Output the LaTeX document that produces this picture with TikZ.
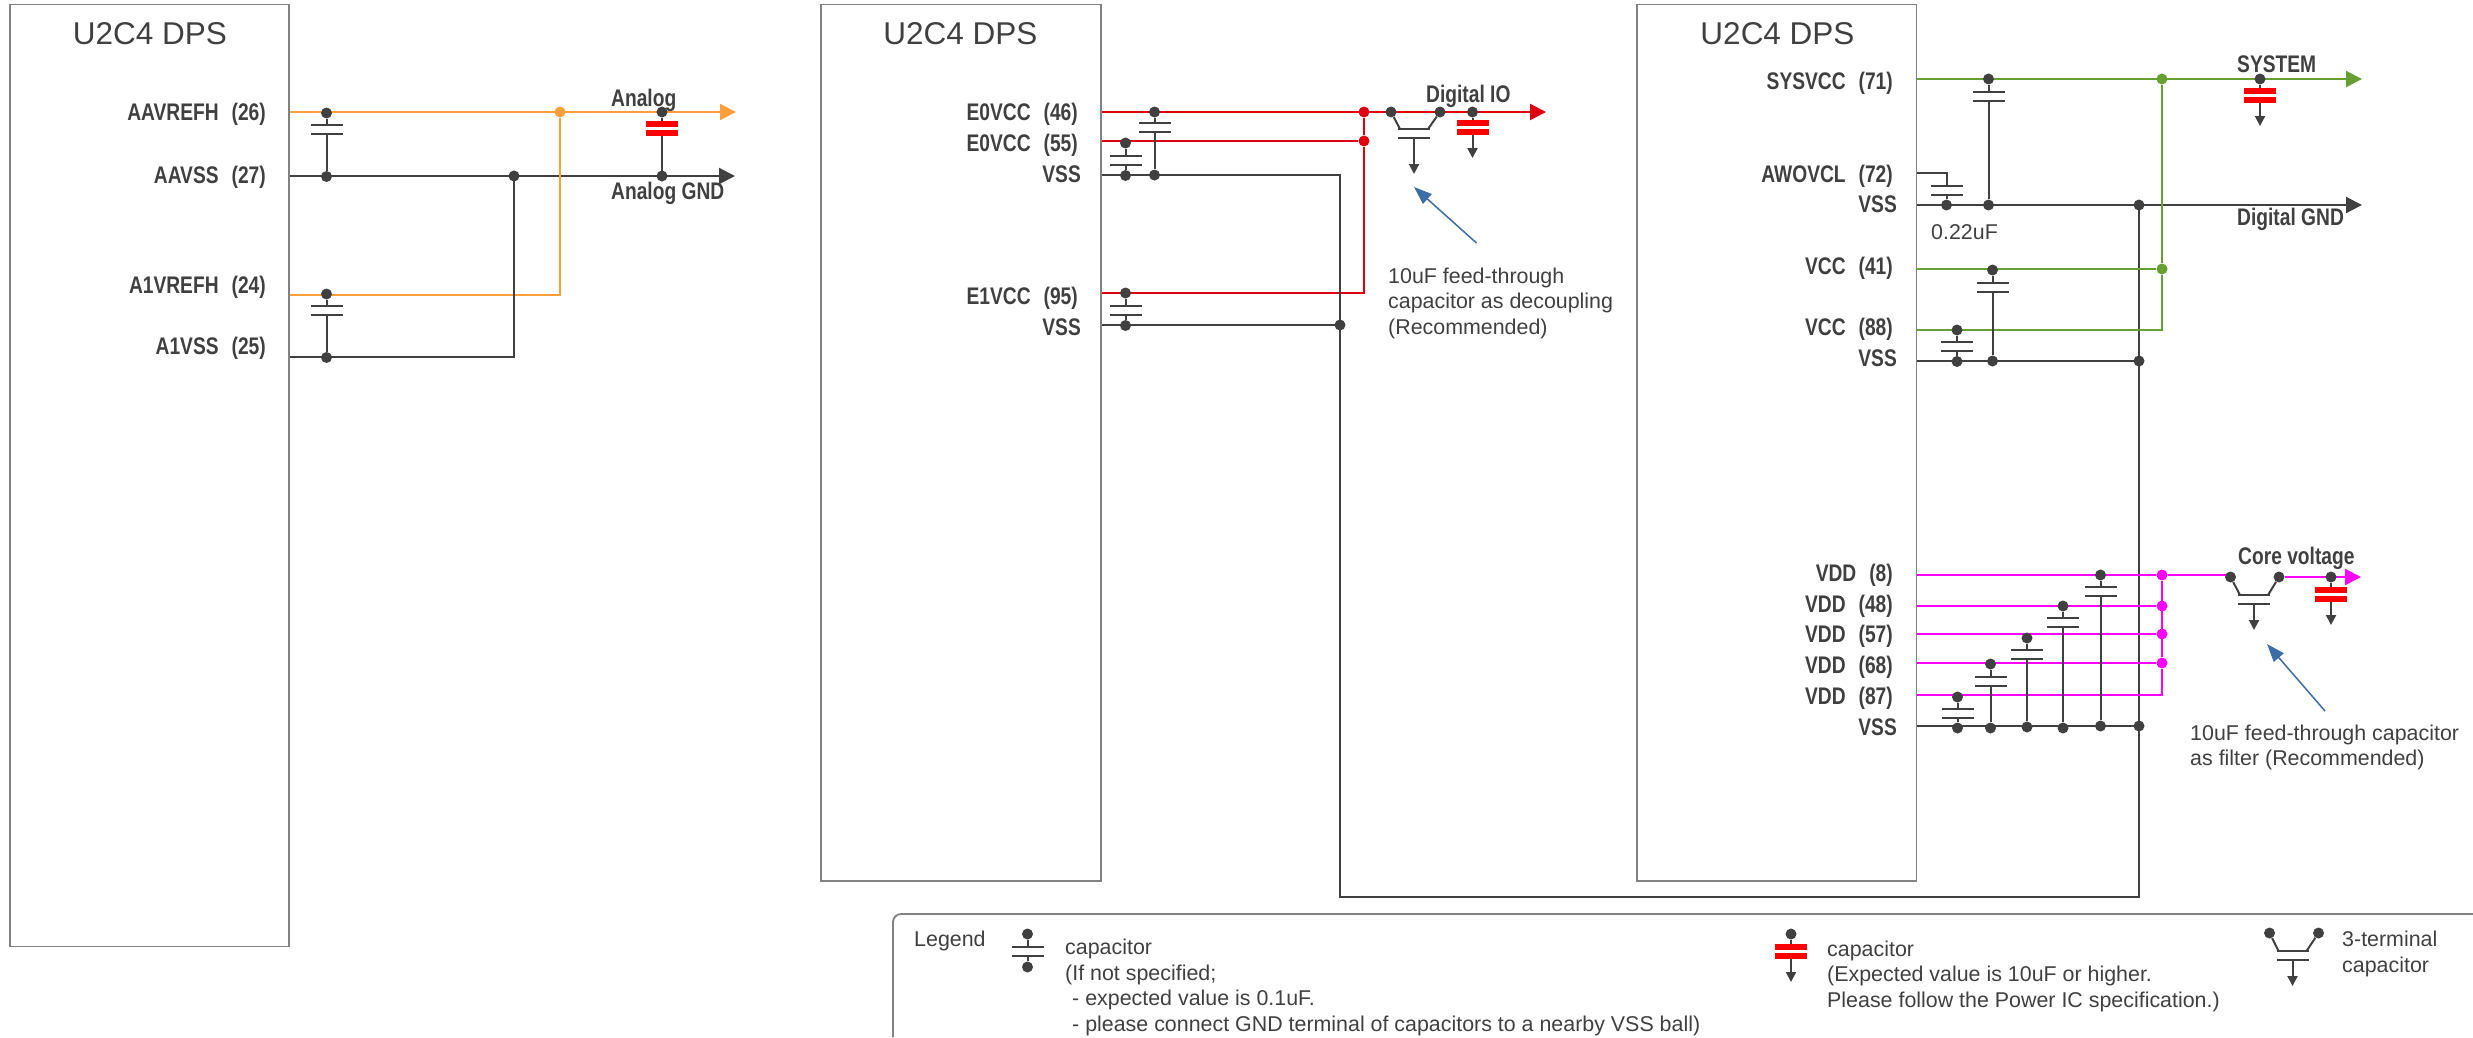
\documentclass[tikz,border=0pt]{standalone}
\usepackage{fontspec}
\setmainfont{Liberation Sans}
\newfontfamily\pinfont[FakeStretch=0.8]{Liberation Sans Bold}
\usetikzlibrary{arrows.meta}
\definecolor{ink}{RGB}{64,64,64}
\definecolor{frame}{RGB}{130,130,130}
\definecolor{analogline}{RGB}{255,159,60}
\definecolor{ioline}{RGB}{222,0,16}
\definecolor{sysline}{RGB}{102,160,50}
\definecolor{coreline}{RGB}{255,0,255}
\definecolor{callout}{RGB}{59,110,168}
\tikzset{%
  chip/.style={draw=frame, line width=1.8, anchor=north west, inner sep=0, outer sep=0},% device outline
  title/.style={text=ink, font=\fontsize{31.5}{37}\selectfont, inner sep=0},% device name
  pin/.style={text=ink, anchor=east, inner sep=0, text height=17, text depth=0, font=\pinfont\fontsize{24}{28}\selectfont},% ball name
  net/.style={text=ink, anchor=west, inner sep=0, text height=17, text depth=0, font=\pinfont\fontsize{24}{28}\selectfont},% net name
  note/.style={text=ink, anchor=west, inner sep=0, align=left, font=\fontsize{21.4}{25.5}\selectfont},% free text
  pad/.style={circle, fill=ink, inner sep=0, minimum size=11},% solder point
  lead/.style={draw=ink, line width=2},% capacitor wire
  plate/.style={draw=ink, line width=2},% capacitor plate
  gnd/.style={draw=ink, line width=2.2},% ground rail
  tipbig/.style={-{Triangle[length=16,width=16]}},% rail end
  tipsmall/.style={-{Triangle[length=10,width=10]}}% ground end
}
\newcommand*{\ballgap}{\hspace{13pt}}
% name, x, y top dot, y first plate, y bottom dot
\newcommand*{\decap}[5]{
  \node[pad] (#1t) at (#2,#3) {};
  \node[pad] (#1b) at (#2,#5) {};
  \coordinate (#1u) at (#2,#4);
  \coordinate (#1l) at (#2,#4+9);
  \draw[plate] (#2-16,#4) -- (#2+16,#4);
  \draw[plate] (#2-16,#4+9) -- (#2+16,#4+9);
  \draw[lead] (#1t) -- (#1u);
  \draw[lead] (#1l) -- (#1b);
}
% [tip], name, x, y dot, y first plate, y end
\newcommand*{\redcap}[6][]{
  \node[pad] (#2t) at (#3,#4) {};
  \coordinate (#2u) at (#3,#5);
  \coordinate (#2l) at (#3,#5+15);
  \coordinate (#2e) at (#3,#6);
  \draw[lead] (#2t) -- (#2u);
  \draw[lead, #1] (#2l) -- (#2e);
  \fill[red] (#3-16,#5) rectangle (#3+16,#5+6);
  \fill[red] (#3-16,#5+9) rectangle (#3+16,#5+15);
}
% name, x left dot, x middle, x right dot, y dots, y first plate, y end
\newcommand*{\feedcap}[7]{
  \node[pad] (#1a) at (#2,#5) {};
  \node[pad] (#1c) at (#4,#5) {};
  \coordinate (#1u) at (#3,#6);
  \coordinate (#1l) at (#3,#6+9);
  \coordinate (#1e) at (#3,#7);
  \draw[plate] (#3-16,#6) -- (#3+16,#6);
  \draw[plate] (#3-16,#6+9) -- (#3+16,#6+9);
  \draw[lead] (#1a) -- (#3-14,#6);
  \draw[lead] (#1c) -- (#3+14,#6);
  \draw[lead, tipsmall] (#1l) -- (#1e);
}
\begin{document}
\begin{tikzpicture}[x=1pt,y=-1pt,line cap=butt]
\useasboundingbox (0,0) rectangle (2473,1037);

% device outlines
\node[chip, minimum width=279, minimum height=942] (chipa) at (10,4.5) {};
\node[chip, minimum width=279.5, minimum height=876.5] (chipb) at (821.2,4.5) {};
\node[chip, minimum width=279.5, minimum height=876.5] (chipc) at (1637,4.5) {};
\node[title] (titlea) at (150,33.5) {U2C4 DPS};
\node[title] (titleb) at (960.5,34) {U2C4 DPS};
\node[title] (titlec) at (1777.5,33.5) {U2C4 DPS};

% ball names
\node[pin] (aavrefh) at (266,112) {AAVREFH\ballgap(26)};
\node[pin] (aavss) at (266,175) {AAVSS\ballgap(27)};
\node[pin] (avrefh) at (266,285) {A1VREFH\ballgap(24)};
\node[pin] (avss) at (266,346) {A1VSS\ballgap(25)};
\node[pin] (eovcca) at (1078,112) {E0VCC\ballgap(46)};
\node[pin] (eovccb) at (1078,143) {E0VCC\ballgap(55)};
\node[pin] (vssa) at (1081,174) {VSS};
\node[pin] (evcc) at (1078,296) {E1VCC\ballgap(95)};
\node[pin] (vssb) at (1081,327) {VSS};
\node[pin] (sysvcc) at (1893,81) {SYSVCC\ballgap(71)};
\node[pin] (awovcl) at (1893,174) {AWOVCL\ballgap(72)};
\node[pin] (vssc) at (1897,204) {VSS};
\node[pin] (vcca) at (1893,266) {VCC\ballgap(41)};
\node[pin] (vccb) at (1893,327) {VCC\ballgap(88)};
\node[pin] (vssd) at (1897,358) {VSS};
\node[pin] (vdda) at (1893,573) {VDD\ballgap(8)};
\node[pin] (vddb) at (1893,604) {VDD\ballgap(48)};
\node[pin] (vddc) at (1893,634) {VDD\ballgap(57)};
\node[pin] (vddd) at (1893,665) {VDD\ballgap(68)};
\node[pin] (vdde) at (1893,696) {VDD\ballgap(87)};
\node[pin] (vsse) at (1897,727) {VSS};

% net names
\node[net] (analog) at (611,98) {Analog};
\node[net] (analoggnd) at (611,191) {Analog GND};
\node[net] (digio) at (1426,94) {Digital IO};
\node[net] (system) at (2237,64) {SYSTEM};
\node[net] (digitalgnd) at (2237,217) {Digital GND};
\node[net] (corev) at (2238,556) {Core voltage};

% rail ends
\coordinate (a1) at (290,112);
\coordinate (a2) at (290,176);
\coordinate (a3) at (290,295);
\coordinate (a4) at (290,357);
\coordinate (a1e) at (736,112);
\coordinate (a2e) at (735,176);
\coordinate (e1) at (1102,112);
\coordinate (e2) at (1102,141);
\coordinate (e3) at (1102,175);
\coordinate (e4) at (1102,293);
\coordinate (e5) at (1102,325);
\coordinate (e1e) at (1546,112);
\coordinate (s1) at (1917,79);
\coordinate (s2) at (1917,173);
\coordinate (s3) at (1917,205);
\coordinate (s4) at (1917,269);
\coordinate (s5) at (1917,330);
\coordinate (s6) at (1917,361);
\coordinate (s1e) at (2362,79);
\coordinate (s3e) at (2362,205);
\coordinate (v1) at (1917,575);
\coordinate (v2) at (1917,606);
\coordinate (v3) at (1917,634);
\coordinate (v4) at (1917,663);
\coordinate (v5) at (1917,695);
\coordinate (v6) at (1917,726);
\coordinate (v1e) at (2361,577);
\coordinate (loopl) at (1340,897);
\coordinate (loopr) at (2139,897);

% junctions
\node[pad, fill=analogline] (ja) at (560,112) {};
\node[pad, fill=ioline] (jea) at (1364,112) {};
\node[pad, fill=ioline] (jeb) at (1364,141) {};
\node[pad, fill=sysline] (jsa) at (2162,79) {};
\node[pad, fill=sysline] (jsb) at (2162,269) {};
\node[pad, fill=coreline] (jva) at (2162,575) {};
\node[pad, fill=coreline] (jvb) at (2162,606) {};
\node[pad, fill=coreline] (jvc) at (2162,634) {};
\node[pad, fill=coreline] (jvd) at (2162,663) {};

% rails
\draw[gnd, tipbig] (a2) -- (a2e);
\draw[analogline, line width=2.2, tipbig] (a1) -- (a1e);
\draw[analogline, line width=2.2] (a3) -| (ja);
\draw[gnd] (a4) -| (514,176);
\draw[ioline, line width=2.2] (e2) -- (jeb);
\draw[ioline, line width=2.2] (e4) -| (jeb);
\draw[ioline, line width=2] (jeb) -- (jea);
\draw[gnd] (e5) -- (1340,325);
\draw[gnd] (e3) -| (loopl) -- (loopr) -- (2139,205);
\draw[ioline, line width=2.2, tipbig] (e1) -- (e1e);
\draw[gnd, tipbig] (s3) -- (s3e);
\draw[sysline, line width=2.2, tipbig] (s1) -- (s1e);
\draw[sysline, line width=2.2] (s4) -- (jsb);
\draw[sysline, line width=2.2] (s5) -| (jsb);
\draw[sysline, line width=2] (jsb) -- (jsa);
\draw[gnd] (s6) -- (2139,361);
\draw[gnd] (v6) -- (2139,726);
\draw[lead] (s2) -| (1946.5,186);
\draw[coreline, line width=2.2] (v1) -- (jva);
\draw[coreline, line width=2.2] (v2) -- (jvb);
\draw[coreline, line width=2.2] (v3) -- (jvc);
\draw[coreline, line width=2.2] (v4) -- (jvd);
\draw[coreline, line width=2.2] (v5) -| (jvd);
\draw[coreline, line width=2] (jvd) -- (jva);

% feed-through capacitors
\feedcap{fe}{1391}{1414}{1440}{112}{129}{174}
\feedcap{fv}{2230.5}{2254}{2279}{577}{595}{630}
\draw[coreline, line width=2.2] (jva) -- (fva.north west |- jva);
\draw[coreline, line width=2.2, tipbig] (fvc) -- (v1e);

% capacitors, left device
\decap{ca}{326.5}{113}{125}{176.5}
\decap{cb}{326.5}{294}{306}{357.5}
\node[pad] (cg) at (514,176) {};
\node[pad] (cc) at (662,176) {};
\redcap{ra}{662}{112}{121}{176}
% capacitors, middle device
\decap{cd}{1125.5}{143}{156}{175.5}
\decap{ce}{1154.5}{112}{123}{175}
\decap{cf}{1125.5}{293}{306}{325.5}
\node[pad] (ch) at (1340,325) {};
\redcap[tipsmall]{rb}{1472.5}{112}{120}{158}
% capacitors, right device
\decap{ci}{1988.5}{79}{92}{205}
\draw[plate] (1930.5,186) -- (1962.5,186);
\draw[plate] (1930.5,195) -- (1962.5,195);
\node[pad] (cj) at (1946.5,205) {};
\draw[lead] (1946.5,195) -- (cj);
\node[pad] (ck) at (2139,205) {};
\decap{cl}{1992.5}{270}{283}{361}
\decap{cm}{1957}{330}{342}{361.5}
\node[pad] (cn) at (2139,361) {};
\redcap[tipsmall]{rc}{2260}{79}{88}{126}
\decap{co}{1957.5}{697}{709}{728}
\decap{cp}{1990.5}{664}{677}{728}
\decap{cq}{2027}{638}{650}{727}
\decap{cr}{2063}{606}{618}{728}
\decap{cs}{2100.5}{575}{587}{726}
\node[pad] (ct) at (2139,726) {};
\redcap[tipsmall]{rd}{2331}{577}{587}{625}

% call-outs
\coordinate (pa) at (1476.5,243);
\coordinate (pb) at (1414,187);
\coordinate (pc) at (2325,711);
\coordinate (pd) at (2267,644);
\draw[callout, line width=1.5, -{Triangle[length=18,width=13]}] (pa) -- (pb);
\draw[callout, line width=1.5, -{Triangle[length=18,width=13]}] (pc) -- (pd);
\node[note] (notea) at (1388,303) {10uF feed-through\\capacitor as decoupling\\(Recommended)};
\node[note] (noteb) at (2190,747.5) {10uF feed-through capacitor\\as filter (Recommended)};
\node[note] (value) at (1931,232) {0.22uF};

% legend
\draw[frame, line width=1.8, rounded corners=8] (893,1037) -- (893,914) -- (2473,914);
\node[note] (legend) at (914,941) {Legend};
\decap{lc}{1027.5}{934}{947}{967}
\node[note] (legenda) at (1065,987.5) {capacitor\\(If not specified;\\\hspace*{7pt}- expected value is 0.1uF.\\\hspace*{7pt}- please connect GND terminal of capacitors to a nearby VSS ball)};
\redcap[tipsmall]{lr}{1791}{934}{944}{982}
\node[note] (legendb) at (1827,976) {capacitor\\(Expected value is 10uF or higher.\\Please follow the Power IC specification.)};
\feedcap{lf}{2269.5}{2292.5}{2318.5}{933}{951}{986}
\node[note] (legendc) at (2342,954) {3-terminal\\capacitor};
\end{tikzpicture}
\end{document}
